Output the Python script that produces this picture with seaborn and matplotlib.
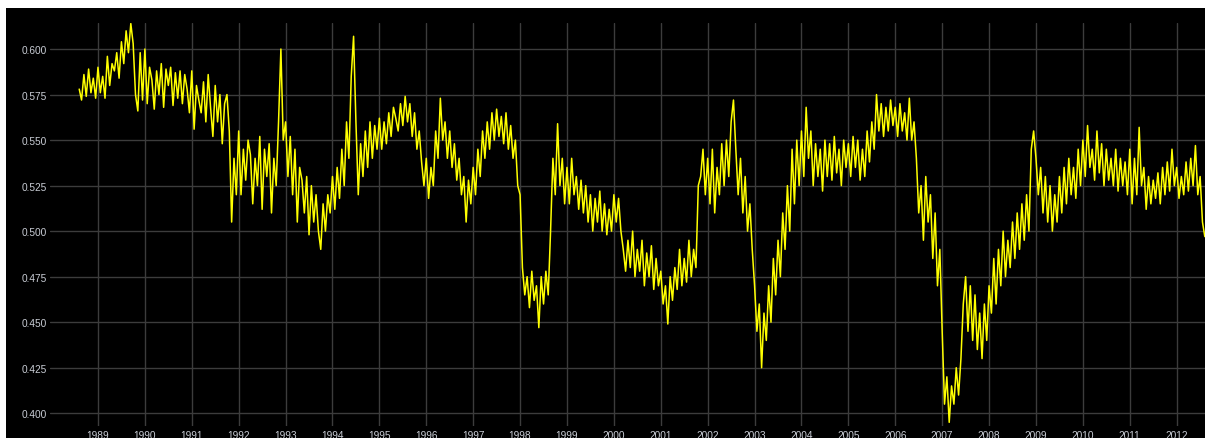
import numpy as np
import pandas as pd
import matplotlib
matplotlib.use("Agg")
import matplotlib.pyplot as plt
from matplotlib.patches import Rectangle
import seaborn as sns

# Sampling of the series: first observation and spacing (in years)
start_year = 1988.60
step_years = 0.05

# Observed values, one row per calendar year
values_1988 = [0.578, 0.572, 0.586, 0.574, 0.589, 0.576, 0.584, 0.573]
values_1989 = [0.590, 0.576, 0.585, 0.573, 0.596, 0.580, 0.592, 0.588, 0.598, 0.584,
               0.604, 0.592, 0.610, 0.598, 0.614, 0.603, 0.575, 0.566, 0.598, 0.572]
values_1990 = [0.600, 0.570, 0.590, 0.583, 0.567, 0.588, 0.575, 0.592, 0.568, 0.589,
               0.580, 0.590, 0.569, 0.587, 0.573, 0.588, 0.570, 0.586, 0.578, 0.565]
values_1991 = [0.588, 0.556, 0.580, 0.572, 0.565, 0.582, 0.560, 0.586, 0.568, 0.552,
               0.580, 0.560, 0.575, 0.548, 0.570, 0.575, 0.555, 0.505, 0.540, 0.520]
values_1992 = [0.555, 0.520, 0.545, 0.528, 0.550, 0.542, 0.515, 0.540, 0.525, 0.552,
               0.512, 0.545, 0.530, 0.548, 0.510, 0.540, 0.525, 0.560, 0.600, 0.550]
values_1993 = [0.560, 0.530, 0.552, 0.520, 0.545, 0.505, 0.535, 0.528, 0.510, 0.530,
               0.498, 0.525, 0.505, 0.520, 0.500, 0.490, 0.515, 0.500, 0.520, 0.510]
values_1994 = [0.530, 0.512, 0.535, 0.518, 0.545, 0.525, 0.560, 0.540, 0.585, 0.607,
               0.560, 0.520, 0.548, 0.530, 0.555, 0.535, 0.560, 0.540, 0.558, 0.545]
values_1995 = [0.562, 0.545, 0.560, 0.548, 0.565, 0.552, 0.568, 0.562, 0.555, 0.570,
               0.558, 0.574, 0.560, 0.570, 0.552, 0.565, 0.545, 0.555, 0.538, 0.525]
values_1996 = [0.540, 0.518, 0.535, 0.525, 0.555, 0.540, 0.573, 0.550, 0.560, 0.540,
               0.555, 0.535, 0.548, 0.528, 0.540, 0.520, 0.530, 0.505, 0.528, 0.515]
values_1997 = [0.535, 0.520, 0.545, 0.530, 0.555, 0.540, 0.560, 0.545, 0.565, 0.550,
               0.567, 0.552, 0.563, 0.548, 0.565, 0.545, 0.558, 0.540, 0.550, 0.525]
values_1998 = [0.520, 0.480, 0.465, 0.475, 0.458, 0.478, 0.462, 0.470, 0.447, 0.475,
               0.460, 0.478, 0.465, 0.500, 0.540, 0.520, 0.559, 0.525, 0.540, 0.515]
values_1999 = [0.535, 0.515, 0.540, 0.520, 0.530, 0.512, 0.528, 0.510, 0.525, 0.505,
               0.520, 0.500, 0.518, 0.505, 0.522, 0.500, 0.515, 0.498, 0.512, 0.500]
values_2000 = [0.520, 0.505, 0.518, 0.500, 0.490, 0.478, 0.495, 0.480, 0.500, 0.475,
               0.490, 0.478, 0.495, 0.470, 0.488, 0.475, 0.492, 0.468, 0.485, 0.470]
values_2001 = [0.478, 0.460, 0.470, 0.449, 0.475, 0.462, 0.480, 0.468, 0.490, 0.470,
               0.485, 0.472, 0.495, 0.475, 0.490, 0.480, 0.525, 0.530, 0.545, 0.520]
values_2002 = [0.540, 0.515, 0.545, 0.510, 0.535, 0.520, 0.548, 0.525, 0.550, 0.530,
               0.560, 0.572, 0.545, 0.520, 0.540, 0.510, 0.530, 0.500, 0.515, 0.490]
values_2003 = [0.470, 0.445, 0.460, 0.425, 0.455, 0.440, 0.470, 0.450, 0.485, 0.465,
               0.495, 0.475, 0.510, 0.490, 0.525, 0.500, 0.545, 0.515, 0.550, 0.525]
values_2004 = [0.555, 0.530, 0.568, 0.540, 0.555, 0.525, 0.548, 0.530, 0.545, 0.522,
               0.550, 0.530, 0.548, 0.528, 0.552, 0.532, 0.545, 0.525, 0.550, 0.535]
values_2005 = [0.548, 0.530, 0.552, 0.535, 0.550, 0.528, 0.545, 0.530, 0.555, 0.538,
               0.560, 0.545, 0.575, 0.555, 0.570, 0.552, 0.568, 0.555, 0.572, 0.558]
values_2006 = [0.568, 0.552, 0.570, 0.555, 0.565, 0.550, 0.573, 0.550, 0.560, 0.540,
               0.510, 0.525, 0.495, 0.530, 0.505, 0.520, 0.485, 0.510, 0.470, 0.490]
values_2007 = [0.445, 0.405, 0.420, 0.395, 0.415, 0.405, 0.425, 0.410, 0.430, 0.460,
               0.475, 0.445, 0.470, 0.440, 0.465, 0.435, 0.455, 0.430, 0.460, 0.440]
values_2008 = [0.470, 0.455, 0.485, 0.460, 0.490, 0.470, 0.500, 0.475, 0.495, 0.480,
               0.505, 0.485, 0.510, 0.490, 0.515, 0.495, 0.520, 0.500, 0.545, 0.555]
values_2009 = [0.540, 0.520, 0.535, 0.510, 0.530, 0.505, 0.525, 0.500, 0.520, 0.505,
               0.530, 0.510, 0.535, 0.515, 0.540, 0.520, 0.535, 0.518, 0.545, 0.525]
values_2010 = [0.550, 0.530, 0.558, 0.535, 0.545, 0.528, 0.555, 0.532, 0.548, 0.525,
               0.545, 0.528, 0.540, 0.525, 0.545, 0.522, 0.540, 0.525, 0.538, 0.520]
values_2011 = [0.545, 0.515, 0.540, 0.520, 0.557, 0.525, 0.535, 0.512, 0.530, 0.515,
               0.528, 0.518, 0.532, 0.515, 0.535, 0.520, 0.538, 0.522, 0.545, 0.525]
values_2012 = [0.535, 0.518, 0.530, 0.520, 0.538, 0.522, 0.540, 0.525, 0.547, 0.520,
               0.530, 0.505, 0.497]

year_ticks = list(range(1989, 2013))
y_ticks = [0.400, 0.425, 0.450, 0.475, 0.500, 0.525, 0.550, 0.575, 0.600]

series = (values_1988 + values_1989 + values_1990 + values_1991 + values_1992 +
          values_1993 + values_1994 + values_1995 + values_1996 + values_1997 +
          values_1998 + values_1999 + values_2000 + values_2001 + values_2002 +
          values_2003 + values_2004 + values_2005 + values_2006 + values_2007 +
          values_2008 + values_2009 + values_2010 + values_2011 + values_2012)
years = start_year + step_years * np.arange(len(series))
df = pd.DataFrame({"year": years, "value": series})

sns.set_theme(style="dark")
plt.rcParams["font.family"] = ["Liberation Sans", "DejaVu Sans"]

fig = plt.figure(figsize=(12.05, 4.39), dpi=100, facecolor="black")
ax = fig.add_axes([50 / 1205, 12 / 439, 1 - 50 / 1205, (427 - 24) / 439])
ax.set_facecolor("black")

sns.lineplot(data=df, x="year", y="value", ax=ax, color="#ffff00",
             linewidth=1.1, estimator=None, sort=False)

ax.set_xlim(1987.977, 2012.604)
ax.set_ylim(0.3930, 0.6143)
ax.set_xticks(year_ticks)
ax.set_xticklabels([str(y) for y in year_ticks])
ax.set_yticks(y_ticks)
ax.set_yticklabels([f"{v:.3f}" for v in y_ticks])
ax.set_xlabel("")
ax.set_ylabel("")
ax.grid(True, color="#3c3c3c", linewidth=1.0)
ax.set_axisbelow(True)
ax.tick_params(axis="both", length=0, colors="#c8ccd4", labelsize=7.3)
ax.tick_params(axis="x", pad=3)
ax.tick_params(axis="y", pad=2)
for s in ax.spines.values():
    s.set_visible(False)

# Light margins along the top and left borders
fig.patches.append(Rectangle((0, 1 - 9 / 439), 1, 9 / 439, transform=fig.transFigure,
                             facecolor="white", edgecolor="none", zorder=10))
fig.patches.append(Rectangle((0, 0), 6 / 1205, 1, transform=fig.transFigure,
                             facecolor="white", edgecolor="none", zorder=10))

fig.savefig("out.png", dpi=100, facecolor="black")
